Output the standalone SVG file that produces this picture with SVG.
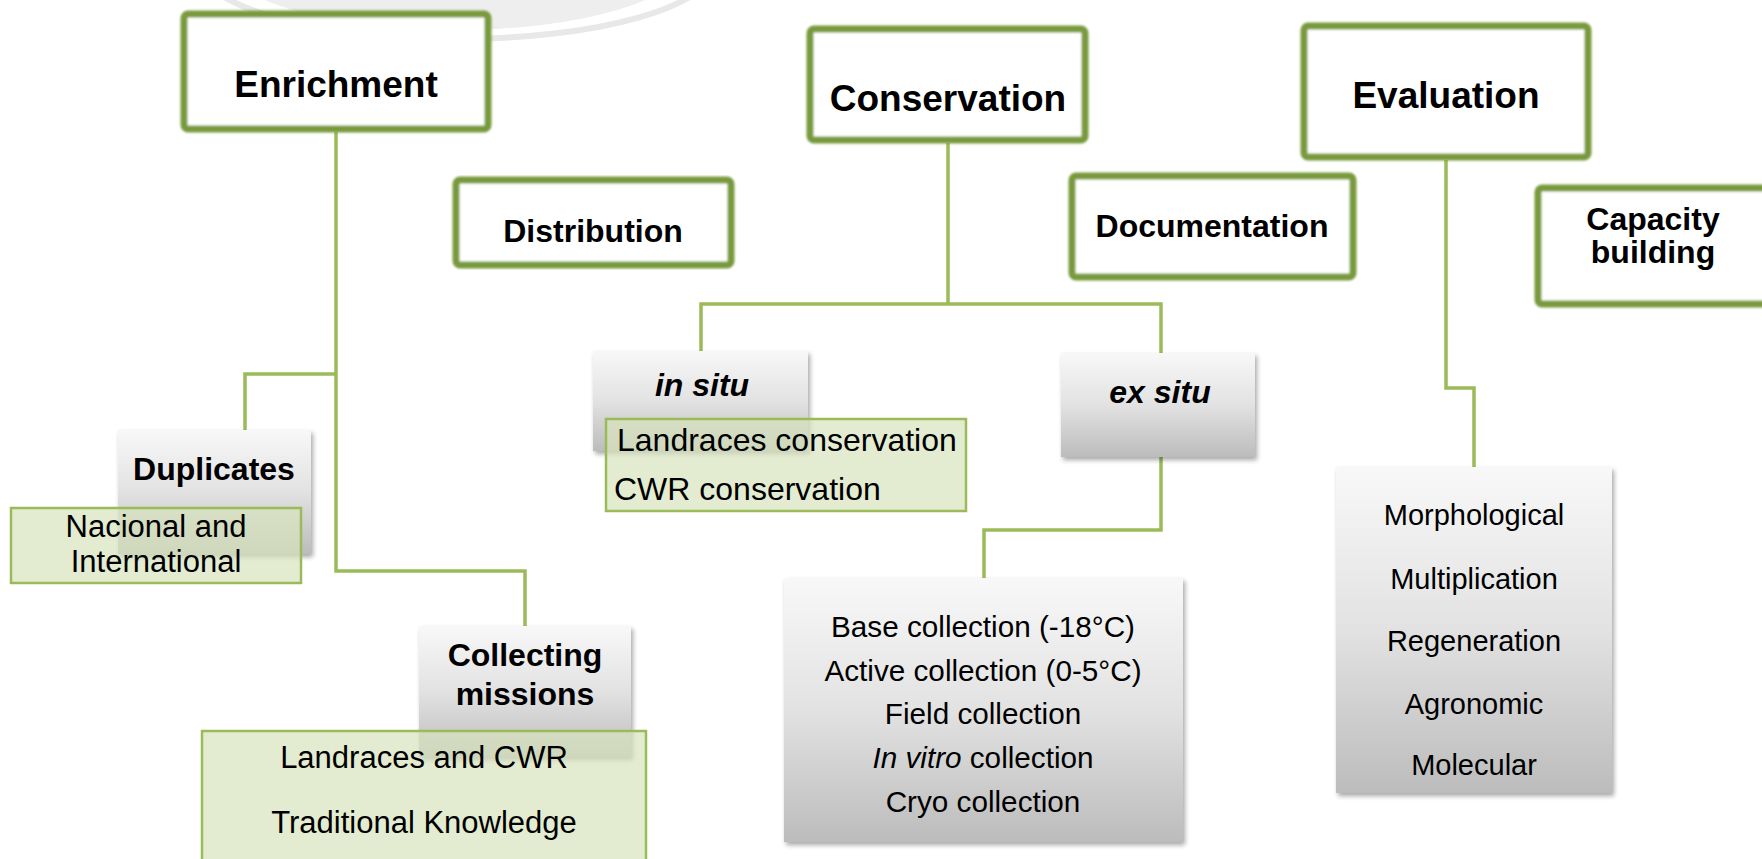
<svg xmlns="http://www.w3.org/2000/svg" width="1762" height="859" viewBox="0 0 1762 859">
<defs>
<linearGradient id="gray" x1="0" y1="0" x2="0" y2="1">
<stop offset="0" stop-color="#f8f8f8"/>
<stop offset="0.5" stop-color="#e2e2e2"/>
<stop offset="1" stop-color="#bcbcbc"/>
</linearGradient>
<filter id="shadow" x="-10%" y="-10%" width="125%" height="130%">
<feGaussianBlur in="SourceAlpha" stdDeviation="2.5"/>
<feOffset dx="2" dy="3" result="b"/>
<feComponentTransfer><feFuncA type="linear" slope="0.35"/></feComponentTransfer>
<feMerge><feMergeNode/><feMergeNode in="SourceGraphic"/></feMerge>
</filter>
<filter id="soft" x="-5%" y="-5%" width="110%" height="110%">
<feGaussianBlur stdDeviation="0.9"/>
</filter>
</defs>
<style>
text{font-family:"Liberation Sans",Arial,sans-serif;fill:#000;text-anchor:middle}
.top{fill:#fff;stroke:#789a3e;stroke-width:7}
.t1{font-size:37px;font-weight:bold}
.t2{font-size:32px;font-weight:bold}
.bi{font-size:32px;font-weight:bold;font-style:italic}
.r31{font-size:31px}
.r32{font-size:32px;text-anchor:start}
.r29{font-size:29px}
.r30{font-size:29.7px}
.gbox{fill:url(#gray)}
.lbox{fill:#d7e4bd;fill-opacity:0.7;stroke:#9bbb59;stroke-width:2.5}
.conn{fill:none;stroke:#9bbb59;stroke-width:3.5}
</style>
<g id="watermark">
<ellipse cx="455" cy="-40" rx="232" ry="70" fill="#eeeeee"/>
<ellipse cx="457" cy="-35" rx="258" ry="74" fill="none" stroke="#e8e8e8" stroke-width="6"/>
</g>
<g id="connectors">
<path class="conn" d="M336 132 V571 H525 V626"/>
<path class="conn" d="M336 374 H245 V430"/>
<path class="conn" d="M948 143 V304"/>
<path class="conn" d="M701 351 V304 H1161 V353"/>
<path class="conn" d="M1161 457 V530 H984 V578"/>
<path class="conn" d="M1446 160 V388 H1474 V467"/>
</g>
<g id="enrichment">
<rect class="top" x="184" y="14" width="304" height="115" rx="4" filter="url(#soft)"/>
<text class="t1" x="336" y="97">Enrichment</text>
</g>
<g id="conservation">
<rect class="top" x="810" y="29" width="275" height="111" rx="4" filter="url(#soft)"/>
<text class="t1" x="948" y="111">Conservation</text>
</g>
<g id="evaluation">
<rect class="top" x="1304" y="26" width="284" height="131" rx="4" filter="url(#soft)"/>
<text class="t1" x="1446" y="108">Evaluation</text>
</g>
<g id="distribution">
<rect class="top" x="456" y="180" width="275" height="85" rx="4" filter="url(#soft)"/>
<text class="t2" x="593" y="242">Distribution</text>
</g>
<g id="documentation">
<rect class="top" x="1072" y="176" width="281" height="101" rx="4" filter="url(#soft)"/>
<text class="t2" x="1212" y="237">Documentation</text>
</g>
<g id="capacity">
<rect class="top" x="1538" y="188" width="260" height="116" rx="4" filter="url(#soft)"/>
<text class="t2" x="1653" y="230">Capacity</text>
<text class="t2" x="1653" y="263">building</text>
</g>
<g id="duplicates">
<rect class="gbox" x="118" y="430" width="193" height="124" filter="url(#shadow)"/>
<text class="t2" x="214" y="480">Duplicates</text>
</g>
<g id="nacional">
<rect class="lbox" x="11" y="508" width="290" height="75"/>
<text class="r31" x="156" y="537">Nacional and</text>
<text class="r31" x="156" y="572">International</text>
</g>
<g id="collecting">
<rect class="gbox" x="419" y="626" width="212" height="131" filter="url(#shadow)"/>
<text class="t2" x="525" y="666">Collecting</text>
<text class="t2" x="525" y="705">missions</text>
</g>
<g id="landraces-cwr">
<rect class="lbox" x="202" y="731" width="444" height="140"/>
<text class="r31" x="424" y="768">Landraces and CWR</text>
<text class="r31" x="424" y="833">Traditional Knowledge</text>
</g>
<g id="insitu">
<rect class="gbox" x="593" y="351" width="215" height="100" filter="url(#shadow)"/>
<text class="bi" x="702" y="396">in situ</text>
</g>
<g id="insitu-list">
<rect class="lbox" x="606" y="419" width="360" height="92"/>
<text class="r32" x="617" y="451">Landraces conservation</text>
<text class="r32" x="614" y="500">CWR conservation</text>
</g>
<g id="exsitu">
<rect class="gbox" x="1061" y="353" width="194" height="104" filter="url(#shadow)"/>
<text class="bi" x="1160" y="403">ex situ</text>
</g>
<g id="collections">
<rect class="gbox" x="784" y="578" width="399" height="264" filter="url(#shadow)"/>
<text class="r30" x="983" y="637">Base collection (-18°C)</text>
<text class="r30" x="983" y="681">Active collection (0-5°C)</text>
<text class="r30" x="983" y="724">Field collection</text>
<text class="r30" x="983" y="768"><tspan font-style="italic">In vitro</tspan> collection</text>
<text class="r30" x="983" y="812">Cryo collection</text>
</g>
<g id="evaluation-list">
<rect class="gbox" x="1336" y="467" width="276" height="326" filter="url(#shadow)"/>
<text class="r29" x="1474" y="525">Morphological</text>
<text class="r29" x="1474" y="589">Multiplication</text>
<text class="r29" x="1474" y="651">Regeneration</text>
<text class="r29" x="1474" y="714">Agronomic</text>
<text class="r29" x="1474" y="775">Molecular</text>
</g>
</svg>
